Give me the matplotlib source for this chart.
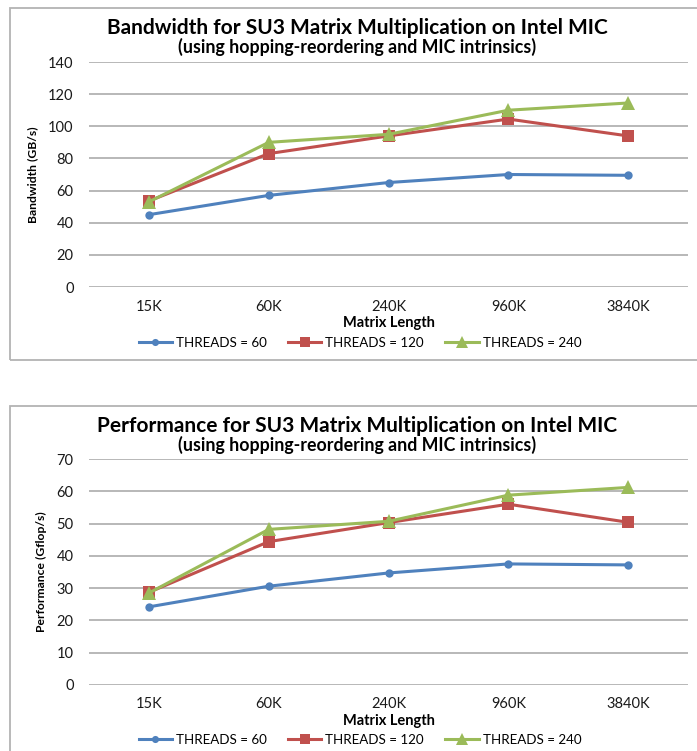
import matplotlib
matplotlib.use("Agg")
import matplotlib.pyplot as plt
from matplotlib.patches import Rectangle
from matplotlib.lines import Line2D

plt.rcParams['font.family'] = ['Lato', 'DejaVu Sans']

# Data
categories = ["15K", "60K", "240K", "960K", "3840K"]
series_names = ["THREADS = 60", "THREADS = 120", "THREADS = 240"]

bandwidth_60 = [45, 57, 65, 70, 69.5]
bandwidth_120 = [53.5, 83, 94, 104.5, 94]
bandwidth_240 = [53, 90, 95, 110, 114.5]

perf_60 = [24.2, 30.6, 34.7, 37.5, 37.2]
perf_120 = [28.7, 44.4, 50.3, 56.0, 50.4]
perf_240 = [28.5, 48.2, 50.7, 58.8, 61.2]

colors = ["#4F81BD", "#C0504D", "#9BBB59"]
markers = ["o", "s", "^"]
msizes = [6.0, 8.6, 9.5]

W, H = 697, 751
fig = plt.figure(figsize=(W / 100, H / 100), dpi=100)


def fx(px):
    return px / W


def fy(py):
    return 1 - py / H


def panel(top_border, bottom_border, ax_top, ax_bottom, title, ylabel,
          series, ymax, ystep):
    # chart frame
    fig.patches.append(Rectangle((fx(10), fy(bottom_border)),
                                 fx(706) - fx(10), fy(top_border) - fy(bottom_border),
                                 transform=fig.transFigure, fill=False,
                                 edgecolor="#B3B3B3", linewidth=1.3, zorder=0))
    ax = fig.add_axes([fx(89), fy(ax_bottom), fx(688) - fx(89),
                       fy(ax_top) - fy(ax_bottom)])
    x = list(range(len(categories)))
    for vals, c, m, ms in zip(series, colors, markers, msizes):
        ax.plot(x, vals, color=c, marker=m, markersize=ms, linewidth=2.2,
                markeredgewidth=0, clip_on=False, zorder=3)
    ax.set_xlim(-0.5, len(categories) - 0.5)
    ax.set_ylim(0, ymax)
    ax.set_yticks(range(0, ymax + 1, ystep))
    ax.set_xticks(x)
    ax.set_xticklabels(categories)
    for s in ax.spines.values():
        s.set_visible(False)
    ax.grid(axis="y", color="#ABABAB", linewidth=1.2)
    ax.set_axisbelow(True)
    ax.tick_params(axis="both", length=0, labelsize=10.5, colors="#1A1A1A")
    ax.tick_params(axis="y", pad=11)
    ax.tick_params(axis="x", pad=9)
    ax.set_xlabel("Matrix Length", fontsize=10.5, fontweight="bold", labelpad=2)
    ax.set_ylabel(ylabel, fontsize=8.7, fontweight="bold", labelpad=7)
    cx = fx(357)
    fig.text(cx, fy(top_border + 20), title[0], ha="center", va="center",
             fontsize=15, fontweight="bold")
    fig.text(cx, fy(top_border + 39), title[1], ha="center", va="center",
             fontsize=12.8, fontweight="bold")
    return ax


panel(8, 360, 62, 287,
      ("Bandwidth for SU3 Matrix Multiplication on Intel MIC",
       "(using hopping-reordering and MIC intrinsics)"),
      "Bandwidth (GB/s)", [bandwidth_60, bandwidth_120, bandwidth_240], 140, 20)

panel(406, 790, 459, 685,
      ("Performance for SU3 Matrix Multiplication on Intel MIC",
       "(using hopping-reordering and MIC intrinsics)"),
      "Performance (Gflop/s)", [perf_60, perf_120, perf_240], 70, 10)

handles = [Line2D([], [], color=c, marker=m, markersize=ms * 0.85, linewidth=2.2,
                  markeredgewidth=0) for c, m, ms in zip(colors, markers, msizes)]

for ly in (343, 740):
    fig.legend(handles, series_names, loc="center",
               bbox_to_anchor=(fx(360), fy(ly)), ncol=3, frameon=False,
               fontsize=9.6, handlelength=2.5, handletextpad=0.3,
               columnspacing=1.6, borderpad=0)

fig.savefig("out.png", dpi=100)
